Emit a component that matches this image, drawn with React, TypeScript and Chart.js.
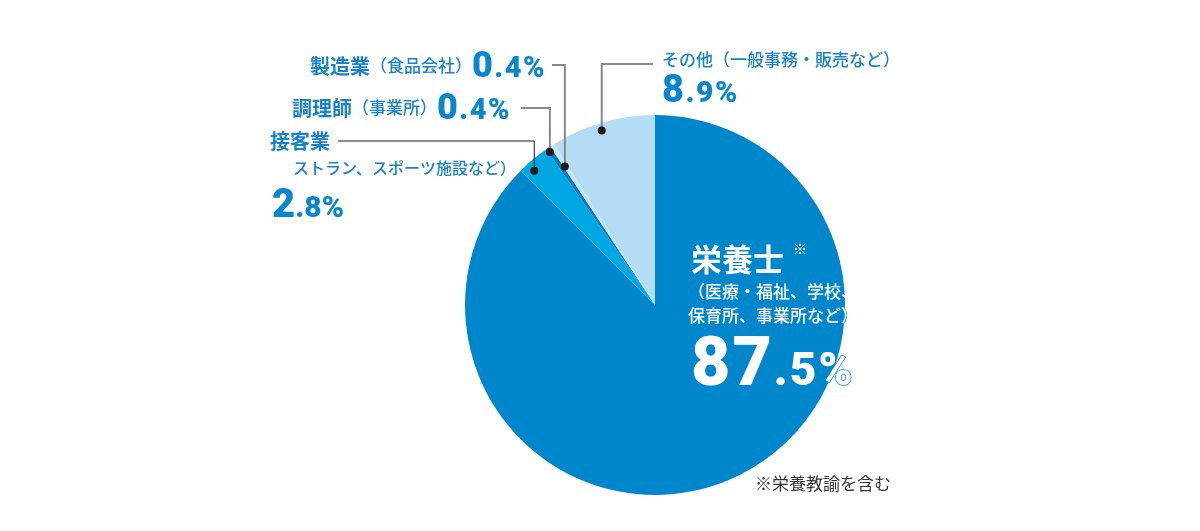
import React, { useEffect, useRef } from 'react';
import { Chart, registerables } from 'chart.js';

Chart.register(...registerables);

// ---- data ----
const categories = ['栄養士', '接客業', '調理師', '製造業', 'その他'];
const values = [87.5, 2.8, 0.4, 0.4, 8.9];
const sliceColors = ['#0086CB', '#00A7E3', '#0A78BE', '#C6E6F8', '#B3DDF5'];
const subLabels = [
  ['（医療・福祉、学校、', '保育所、事業所など）'],
  ['ストラン、スポーツ施設など）'],
  ['（事業所）'],
  ['（食品会社）'],
  ['（一般事務・販売など）'],
];
const footnote = '※栄養教諭を含む';

// ---- styles ----
const BLUE = '#1A82C6';
const NUMBLUE = '#0A86CD';
const JP = '"Noto Sans CJK JP", "Noto Sans", sans-serif';
const NUM = 'Roboto, "Liberation Sans", sans-serif';

type Seg = { t: string; font: string; base?: CanvasTextBaseline; fill?: string; stroke?: string; dy?: number; ls?: number };

function run(ctx: CanvasRenderingContext2D, x: number, y: number, segs: Seg[]) {
  let cx = x;
  for (const s of segs) {
    ctx.font = s.font;
    (ctx as any).letterSpacing = (s.ls || 0) + 'px';
    ctx.textBaseline = s.base || 'middle';
    ctx.textAlign = 'left';
    const w = ctx.measureText(s.t).width;
    const yy = y + (s.dy || 0);
    if (s.stroke) {
      ctx.lineWidth = 1.4;
      ctx.strokeStyle = s.stroke;
      ctx.lineJoin = 'round';
      ctx.strokeText(s.t, cx, yy);
    }
    ctx.fillStyle = s.fill || BLUE;
    ctx.fillText(s.t, cx, yy);
    cx += w;
  }
  (ctx as any).letterSpacing = '0px';
  return cx;
}

function numSegs(v: number, big: number, small: number, fill: string, ls: number, stroke?: string, dy = 0): Seg[] {
  const [ip, dp] = v.toFixed(1).split('.');
  return [
    { t: ip, font: `900 ${big}px ${NUM}`, base: 'alphabetic', fill, stroke, ls, dy },
    { t: '.' + dp + '%', font: `900 ${small}px ${NUM}`, base: 'alphabetic', fill, stroke, ls, dy },
  ];
}

// leader layout: slice index, dot fraction along slice, dot radius fraction, line y, line end x, colour, width
const leaders = [
  { i: 1, f: 0.3, rf: 0.95, ly: 141, lx: 338, color: '#231815', w: 1 },
  { i: 2, f: 0.3, rf: 0.977, ly: 108, lx: 521, color: '#888888', w: 2 },
  { i: 3, f: 0.3, rf: 0.87, ly: 65, lx: 552, color: '#888888', w: 2 },
  { i: 4, f: 0.47, rf: 0.96, ly: 64, lx: 653, color: '#888888', w: 2 },
];

const labelPlugin = {
  id: 'labels',
  afterDatasetsDraw(chart: any) {
    const ctx: CanvasRenderingContext2D = chart.ctx;
    const arcs = chart.getDatasetMeta(0).data as any[];
    ctx.save();
    for (const L of leaders) {
      const a = arcs[L.i].getProps(['x', 'y', 'startAngle', 'endAngle', 'outerRadius'], true);
      const ang = a.startAngle + L.f * (a.endAngle - a.startAngle);
      const dx = a.x + Math.cos(ang) * a.outerRadius * L.rf;
      const dy = a.y + Math.sin(ang) * a.outerRadius * L.rf;
      ctx.beginPath();
      ctx.strokeStyle = L.color;
      ctx.lineWidth = L.w;
      ctx.moveTo(L.lx, L.ly);
      ctx.lineTo(dx, L.ly);
      ctx.lineTo(dx, dy);
      ctx.stroke();
      ctx.beginPath();
      ctx.fillStyle = '#231815';
      ctx.arc(dx, dy, 4, 0, Math.PI * 2);
      ctx.fill();
    }

    // 製造業
    run(ctx, 310, 66, [
      { t: categories[3], font: `bold 20px ${JP}` },
      { t: subLabels[3][0], font: `500 17px ${JP}` },
      ...numSegs(values[3], 36, 29, NUMBLUE, 1.5, undefined, 11),
    ]);
    // 調理師
    run(ctx, 292, 108, [
      { t: categories[2], font: `bold 20px ${JP}` },
      { t: subLabels[2][0], font: `500 17px ${JP}` },
      ...numSegs(values[2], 36, 29, NUMBLUE, 1.5, undefined, 11),
    ]);
    // 接客業
    run(ctx, 270, 141, [{ t: categories[1], font: `bold 20px ${JP}` }]);
    run(ctx, 293, 168, [{ t: subLabels[1][0], font: `500 16px ${JP}` }]);
    run(ctx, 272, 217, numSegs(values[1], 40, 30, NUMBLUE, 0));
    // その他
    run(ctx, 662, 60, [{ t: categories[4] + subLabels[4][0], font: `500 17px ${JP}` }]);
    run(ctx, 662, 102, numSegs(values[4], 38, 30, NUMBLUE, 1.5));
    // 栄養士
    run(ctx, 691, 259, [{ t: categories[0], font: `bold 31px ${JP}`, fill: '#ffffff' }]);
    run(ctx, 793, 249, [{ t: '※', font: `500 14px ${JP}`, fill: '#ffffff' }]);
    run(ctx, 688, 292, [{ t: subLabels[0][0], font: `500 17px ${JP}`, fill: '#ffffff' }]);
    run(ctx, 688, 316, [{ t: subLabels[0][1], font: `500 17px ${JP}`, fill: '#ffffff', stroke: '#0086CB' }]);
    run(ctx, 691, 385, numSegs(values[0], 68, 46, '#ffffff', 2, '#0086CB'));
    // footnote
    run(ctx, 755, 484, [{ t: footnote, font: `400 17px ${JP}`, fill: '#333333' }]);
    ctx.restore();
  },
};

export default function App() {
  const ref = useRef<HTMLCanvasElement>(null);
  useEffect(() => {
    if (!ref.current) return;
    const chart = new Chart(ref.current, {
      type: 'pie',
      data: {
        labels: categories,
        datasets: [
          {
            data: values,
            backgroundColor: sliceColors,
            borderWidth: 0,
          },
        ],
      },
      options: {
        animation: false,
        responsive: false,
        devicePixelRatio: 1,
        layout: { padding: { left: 465, right: 355, top: 115, bottom: 36 } },
        plugins: { legend: { display: false }, tooltip: { enabled: false } },
      },
      plugins: [labelPlugin],
    });
    return () => chart.destroy();
  }, []);
  return (
    <div style={{ position: 'fixed', left: 0, top: 0, width: 1200, height: 531, background: '#fff' }}>
      <canvas ref={ref} width={1200} height={531} style={{ display: 'block' }} />
    </div>
  );
}
